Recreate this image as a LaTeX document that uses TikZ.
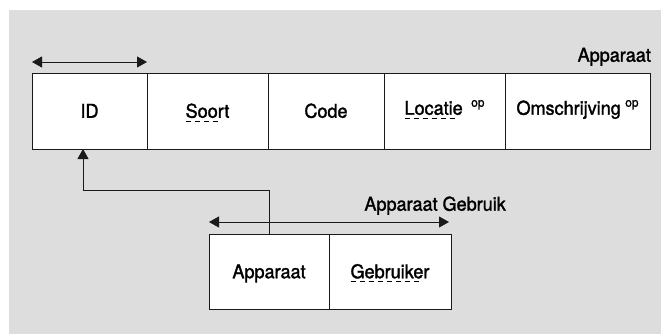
\documentclass[tikz,border=0pt]{standalone}
\usepackage{fontspec}
\setmainfont{TeX Gyre Heros}[FakeStretch=0.95,FakeBold=1.6]
\usetikzlibrary{arrows.meta}
\definecolor{bggray}{HTML}{DDDDDD}
\definecolor{linec}{HTML}{1A1A1A}
\newcommand{\dashu}[1]{\setbox0\hbox{#1}\rlap{\raisebox{-4.2pt}{\hbox to \wd0{\leaders\hbox to 9pt{\rule{5pt}{1pt}\hss}\hfill}}}\box0}
\newcommand{\opt}{\hspace{4.5pt}\raisebox{8pt}{\fontsize{12.5}{12.5}\selectfont op}}
\begin{document}
\begin{tikzpicture}[x=1pt,y=-1pt,
  cell/.style={draw=linec,line width=0.9pt,fill=white,anchor=north west,inner sep=0pt,outer sep=0pt,
    text height=13.5pt,text depth=0pt,font=\fontsize{19}{21}\selectfont},
  lbl/.style={font=\fontsize{19}{21}\selectfont,inner sep=0pt,anchor=base east},
  dbl/.style={{Triangle[length=10pt,width=11pt]}-{Triangle[length=10pt,width=11pt]},draw=linec,line width=0.9pt},
  conn/.style={-{Triangle[length=10pt,width=11pt]},draw=linec,line width=0.9pt}]
\useasboundingbox (0,0) rectangle (661,334);
\fill[white] (0,0) rectangle (661,334);
\fill[bggray] (9,10) rectangle (661,334);
% top table
\node[cell,minimum width=115pt,minimum height=76pt] (id) at (32,73) {ID};
\node[cell,minimum width=121pt,minimum height=76pt] (soort) at (147,73) {\dashu{Soort}};
\node[cell,minimum width=116pt,minimum height=76pt] (code) at (268,73) {Code};
\node[cell,minimum width=121pt,minimum height=76pt] (loc) at (384,73) {\raisebox{3pt}{\dashu{Locatie\hspace{4pt}}\opt}};
\node[cell,minimum width=145pt,minimum height=76pt] (oms) at (505,73) {\raisebox{3pt}{Omschrijving\opt}};
\node[lbl] (tlabel) at ([xshift=1pt,yshift=11.3pt]oms.north east) {Apparaat};
\draw[dbl] ([yshift=11pt]id.north west) -- ([yshift=11pt]id.north east);
% bottom table
\node[cell,minimum width=120pt,minimum height=75pt] (app) at (209,234) {Apparaat};
\node[cell,minimum width=122pt,minimum height=75pt] (geb) at (329,234) {\dashu{Gebruiker}};
\node[lbl] (blabel) at ([xshift=55pt,yshift=23.3pt]geb.north east) {Apparaat Gebruik};
\draw[dbl] ([yshift=12pt]app.north west) -- ([xshift=-2pt,yshift=12pt]geb.north east);
% connector
\draw[conn] (app.north) -- ++(0,-44) -| ([xshift=-6.5pt]id.south);
\end{tikzpicture}
\end{document}
